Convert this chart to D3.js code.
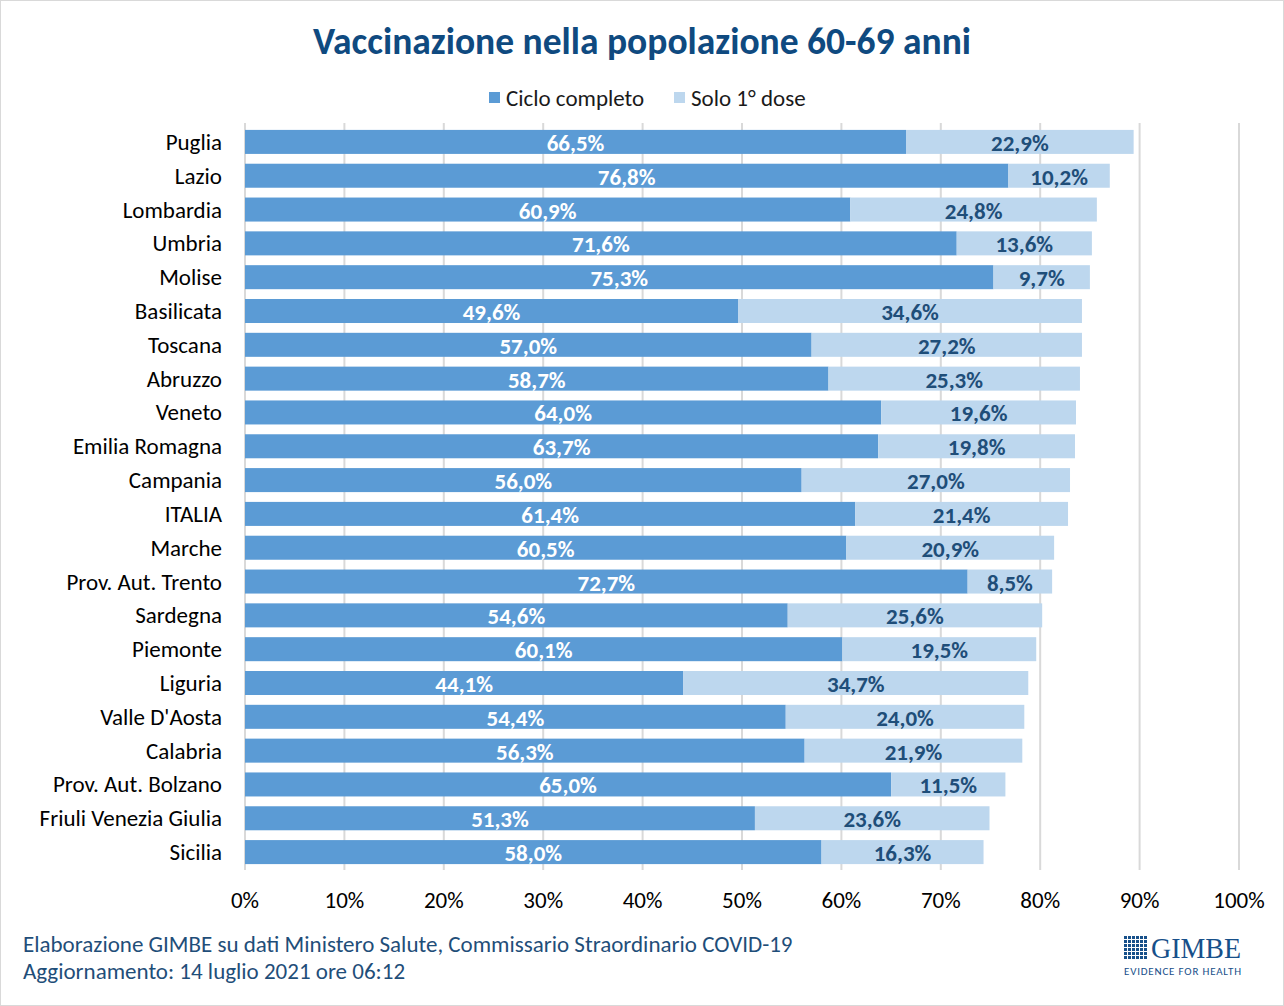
<!DOCTYPE html>
<html>
<head>
<meta charset="utf-8">
<script src="https://cdn.jsdelivr.net/npm/d3@7"></script>
<style>
  body { margin: 0; background: #fff; }
  svg { display: block; font-family: Carlito, Calibri, "Open Sans", sans-serif; }
</style>
</head>
<body>
<svg id="chart"></svg>
<script>
const width = 1284, height = 1006;

// Data
const regions = ["Puglia", "Lazio", "Lombardia", "Umbria", "Molise", "Basilicata", "Toscana", "Abruzzo",
  "Veneto", "Emilia Romagna", "Campania", "ITALIA", "Marche", "Prov. Aut. Trento", "Sardegna", "Piemonte",
  "Liguria", "Valle D'Aosta", "Calabria", "Prov. Aut. Bolzano", "Friuli Venezia Giulia", "Sicilia"];
const cicloCompleto = [66.5, 76.8, 60.9, 71.6, 75.3, 49.6, 57.0, 58.7, 64.0, 63.7, 56.0, 61.4, 60.5, 72.7,
  54.6, 60.1, 44.1, 54.4, 56.3, 65.0, 51.3, 58.0];
const soloPrimaDose = [22.9, 10.2, 24.8, 13.6, 9.7, 34.6, 27.2, 25.3, 19.6, 19.8, 27.0, 21.4, 20.9, 8.5,
  25.6, 19.5, 34.7, 24.0, 21.9, 11.5, 23.6, 16.3];
const xTicks = [0, 10, 20, 30, 40, 50, 60, 70, 80, 90, 100];
const seriesNames = ["Ciclo completo", "Solo 1° dose"];

const colDark = "#5b9bd5", colLight = "#bdd7ee", navy = "#1f4e79";
const fmt = v => d3.format(".1f")(v).replace(".", ",") + "%";

const svg = d3.select("#chart").attr("width", width).attr("height", height);

// border
svg.append("rect").attr("x", 0.5).attr("y", 0.5).attr("width", width - 1).attr("height", height - 1)
  .attr("fill", "#fff").attr("stroke", "#d9d9d9");

const x = d3.scaleLinear().domain([0, 100]).range([245, 1239]);
const y = d3.scaleBand().domain(regions).range([125, 869]).paddingInner(0.29).paddingOuter(0.145);

// gridlines
svg.append("g").selectAll("line").data(xTicks).join("line")
  .attr("x1", d => x(d)).attr("x2", d => x(d))
  .attr("y1", 123).attr("y2", 870)
  .attr("stroke", "#d9d9d9").attr("stroke-width", 2);

// x tick labels
svg.append("g").selectAll("text").data(xTicks).join("text")
  .attr("x", d => x(d)).attr("y", 908)
  .attr("text-anchor", "middle")
  .attr("font-size", 23).attr("fill", "#000")
  .text(d => d + "%");

const rows = regions.map((r, i) => ({ r, a: cicloCompleto[i], b: soloPrimaDose[i] }));

const g = svg.append("g");
g.selectAll(".dark").data(rows).join("rect").attr("class", "dark")
  .attr("x", x(0)).attr("y", d => y(d.r))
  .attr("width", d => x(d.a) - x(0)).attr("height", y.bandwidth())
  .attr("fill", colDark);
g.selectAll(".light").data(rows).join("rect").attr("class", "light")
  .attr("x", d => x(d.a)).attr("y", d => y(d.r))
  .attr("width", d => x(d.a + d.b) - x(d.a)).attr("height", y.bandwidth())
  .attr("fill", colLight);

// value labels
g.selectAll(".lblA").data(rows).join("text")
  .attr("x", d => (x(0) + x(d.a)) / 2).attr("y", d => y(d.r) + y.bandwidth() / 2 + 9)
  .attr("text-anchor", "middle").attr("font-size", 23).attr("font-weight", "bold")
  .attr("fill", "#fff").text(d => fmt(d.a));
g.selectAll(".lblB").data(rows).join("text")
  .attr("x", d => (x(d.a) + x(d.a + d.b)) / 2).attr("y", d => y(d.r) + y.bandwidth() / 2 + 9)
  .attr("text-anchor", "middle").attr("font-size", 23).attr("font-weight", "bold")
  .attr("fill", navy).text(d => fmt(d.b));

// category labels
g.selectAll(".cat").data(rows).join("text")
  .attr("x", 222).attr("y", d => y(d.r) + y.bandwidth() / 2 + 8)
  .attr("text-anchor", "end").attr("font-size", 23).attr("fill", "#000")
  .text(d => d.r);

// title
svg.append("text").attr("x", 642).attr("y", 54).attr("text-anchor", "middle")
  .attr("font-size", 37.5).attr("font-weight", "bold").attr("fill", "#0f4a80")
  .text("Vaccinazione nella popolazione 60-69 anni");

// legend
const legX = [489, 674];
const leg = svg.append("g").selectAll("g").data(seriesNames).join("g")
  .attr("transform", (d, i) => `translate(${legX[i]},92)`);
leg.append("rect").attr("width", 11).attr("height", 11).attr("fill", (d, i) => i ? colLight : colDark);
leg.append("text").attr("x", 17).attr("y", 14).attr("font-size", 23).attr("fill", "#1a1a1a").text(d => d);

// footer
svg.append("text").attr("x", 23).attr("y", 952).attr("font-size", 23).attr("fill", navy)
  .text("Elaborazione GIMBE su dati Ministero Salute, Commissario Straordinario COVID-19");
svg.append("text").attr("x", 23).attr("y", 979).attr("font-size", 23).attr("fill", navy)
  .text("Aggiornamento: 14 luglio 2021 ore 06:12");

// logo
const logo = svg.append("g").attr("transform", "translate(1124,936)");
const cells = d3.range(36).map(i => ({ c: i % 6, r: Math.floor(i / 6) }));
logo.selectAll("rect").data(cells).join("rect")
  .attr("x", d => d.c * 4).attr("y", d => d.r * 4)
  .attr("width", 3).attr("height", 3).attr("fill", "#17508a");
logo.append("text").attr("x", 27).attr("y", 22).attr("font-family", "'Liberation Serif', 'DejaVu Serif', serif")
  .attr("font-size", 30).attr("fill", "#17508a").attr("textLength", 90).attr("lengthAdjust", "spacingAndGlyphs")
  .text("GIMBE");
logo.append("text").attr("x", 0).attr("y", 39).attr("font-size", 11).attr("fill", "#17508a")
  .attr("textLength", 117).attr("lengthAdjust", "spacing")
  .text("EVIDENCE FOR HEALTH");
</script>
</body>
</html>
